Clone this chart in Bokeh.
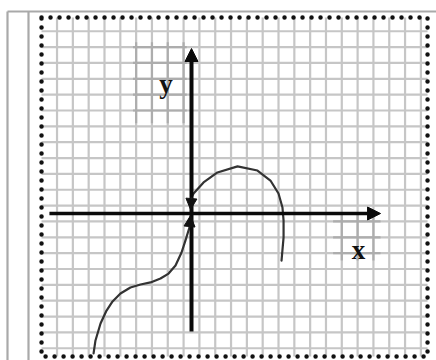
import numpy as np
from bokeh.plotting import figure
from bokeh.models import Range1d, Arrow, NormalHead
from bokeh.core.properties import value
from bokeh.embed import file_html
from bokeh.resources import INLINE

# ---------------- data (grid cells, origin at axes crossing) ----------------
lower_x = [-6.19, -6.07, -5.75, -5.40, -4.99, -4.49, -3.86, -3.22, -2.59, -1.96, -1.45, -1.01, -0.63, -0.38, -0.13]
lower_y = [-8.83, -8.01, -6.94, -6.18, -5.55, -5.05, -4.67, -4.48, -4.35, -4.10, -3.79, -3.28, -2.46, -1.70, -0.88]
lower_tip = (-0.06, -0.13)

upper_x = [0.00, 0.13, 0.76, 1.64, 2.91, 4.17, 4.99, 5.50, 5.75, 5.82, 5.82, 5.69]
upper_y = [1.01, 1.26, 1.96, 2.59, 2.97, 2.71, 2.08, 1.26, 0.38, -0.44, -1.51, -2.97]
upper_tip = (-0.06, 0.25)

x_axis_span = (-8.98, 11.95)
y_axis_span = (-7.44, 10.41)

label_text = ["x", "y"]
label_x = [10.56, -1.61]
label_y = [-2.33, 8.20]

grid_x = list(np.arange(-8.5, 15.0, 1.0))
grid_y = list(np.arange(-8.5, 12.0, 1.0))

# darker pasted grid patches around the labels
patch_h = [(-3.7, -0.3, y) for y in [6.5, 7.5, 8.5, 9.5, 10.5]] + [(8.95, 11.95, y) for y in [-0.5, -1.5, -2.5]]
patch_v = [(x, 5.7, 10.8) for x in [-3.5, -2.5, -1.5, -0.5]] + [(x, -2.97, 0.0) for x in [9.5, 10.5, 11.5]]

border = (-9.48, 14.92, -9.02, 12.37)  # left, right, bottom, top

# ---------------- layout (screen mapping) ----------------
CX, CY = 15.82, 15.85
OX, OY = 191, 213
W, H = 436, 360
x0 = (0 - OX) / CX
x1 = (W - OX) / CX
y1 = OY / CY
y0 = (OY - H) / CY

p = figure(width=W, height=H, x_range=Range1d(x0, x1), y_range=Range1d(y0, y1),
           x_axis_type=None, y_axis_type=None, toolbar_location=None,
           output_backend="svg", min_border=0, outline_line_color=None,
           background_fill_color="white", border_fill_color="white")
p.grid.visible = False

# outer table frame
top_y = (OY - 11) / CY
left_a = (7 - OX) / CX
left_b = (28 - OX) / CX
p.segment(x0=[left_a, left_a, left_b], y0=[top_y, top_y, top_y], x1=[x1, left_a, left_b], y1=[top_y, y0, y0],
          line_color="#a9a9a9", line_width=2.2)

# grid paper
L, R, B, T = border
p.segment(x0=grid_x, y0=[B] * len(grid_x), x1=grid_x, y1=[T] * len(grid_x),
          line_color="#c6c6c6", line_width=2.2)
p.segment(x0=[L] * len(grid_y), y0=grid_y, x1=[R] * len(grid_y), y1=grid_y,
          line_color="#c6c6c6", line_width=2.2)
p.segment(x0=[a for a, b, c in patch_h], y0=[c for a, b, c in patch_h],
          x1=[b for a, b, c in patch_h], y1=[c for a, b, c in patch_h],
          line_color="#adadad", line_width=2.2)
p.segment(x0=[a for a, b, c in patch_v], y0=[b for a, b, c in patch_v],
          x1=[a for a, b, c in patch_v], y1=[c for a, b, c in patch_v],
          line_color="#adadad", line_width=2.2)

# dotted border
p.quad(left=[L], right=[R], bottom=[B], top=[T], fill_color=None,
       line_color="#111111", line_width=4.5, line_dash="0 9", line_cap="round")

# axes with arrows
p.add_layout(Arrow(x_start=x_axis_span[0], y_start=0, x_end=x_axis_span[1], y_end=0,
                   line_width=3.5, line_color="#0a0a0a",
                   end=NormalHead(size=13, fill_color="#0a0a0a", line_color="#0a0a0a")))
p.add_layout(Arrow(x_start=0, y_start=y_axis_span[0], x_end=0, y_end=y_axis_span[1],
                   line_width=4, line_color="#0a0a0a",
                   end=NormalHead(size=13, fill_color="#0a0a0a", line_color="#0a0a0a")))

# curve
p.line(lower_x, lower_y, line_color="#333333", line_width=2.2, line_join="round", line_cap="round")
p.line(upper_x, upper_y, line_color="#333333", line_width=2.2, line_join="round", line_cap="round")
p.add_layout(Arrow(x_start=lower_x[-1], y_start=lower_y[-1], x_end=lower_tip[0], y_end=lower_tip[1],
                   line_width=2, line_color="#222222",
                   end=NormalHead(size=11, fill_color="#111111", line_color="#111111")))
p.add_layout(Arrow(x_start=upper_x[0], y_start=upper_y[0], x_end=upper_tip[0], y_end=upper_tip[1],
                   line_width=2, line_color="#222222",
                   end=NormalHead(size=11, fill_color="#111111", line_color="#111111")))

# axis labels
p.text(x=label_x, y=label_y, text=label_text, text_font=value("Liberation Serif"),
       text_font_style="bold", text_font_size="27px", text_color="#111111",
       text_align="center", text_baseline="alphabetic")

open("out.html", "w").write(file_html(p, INLINE))
